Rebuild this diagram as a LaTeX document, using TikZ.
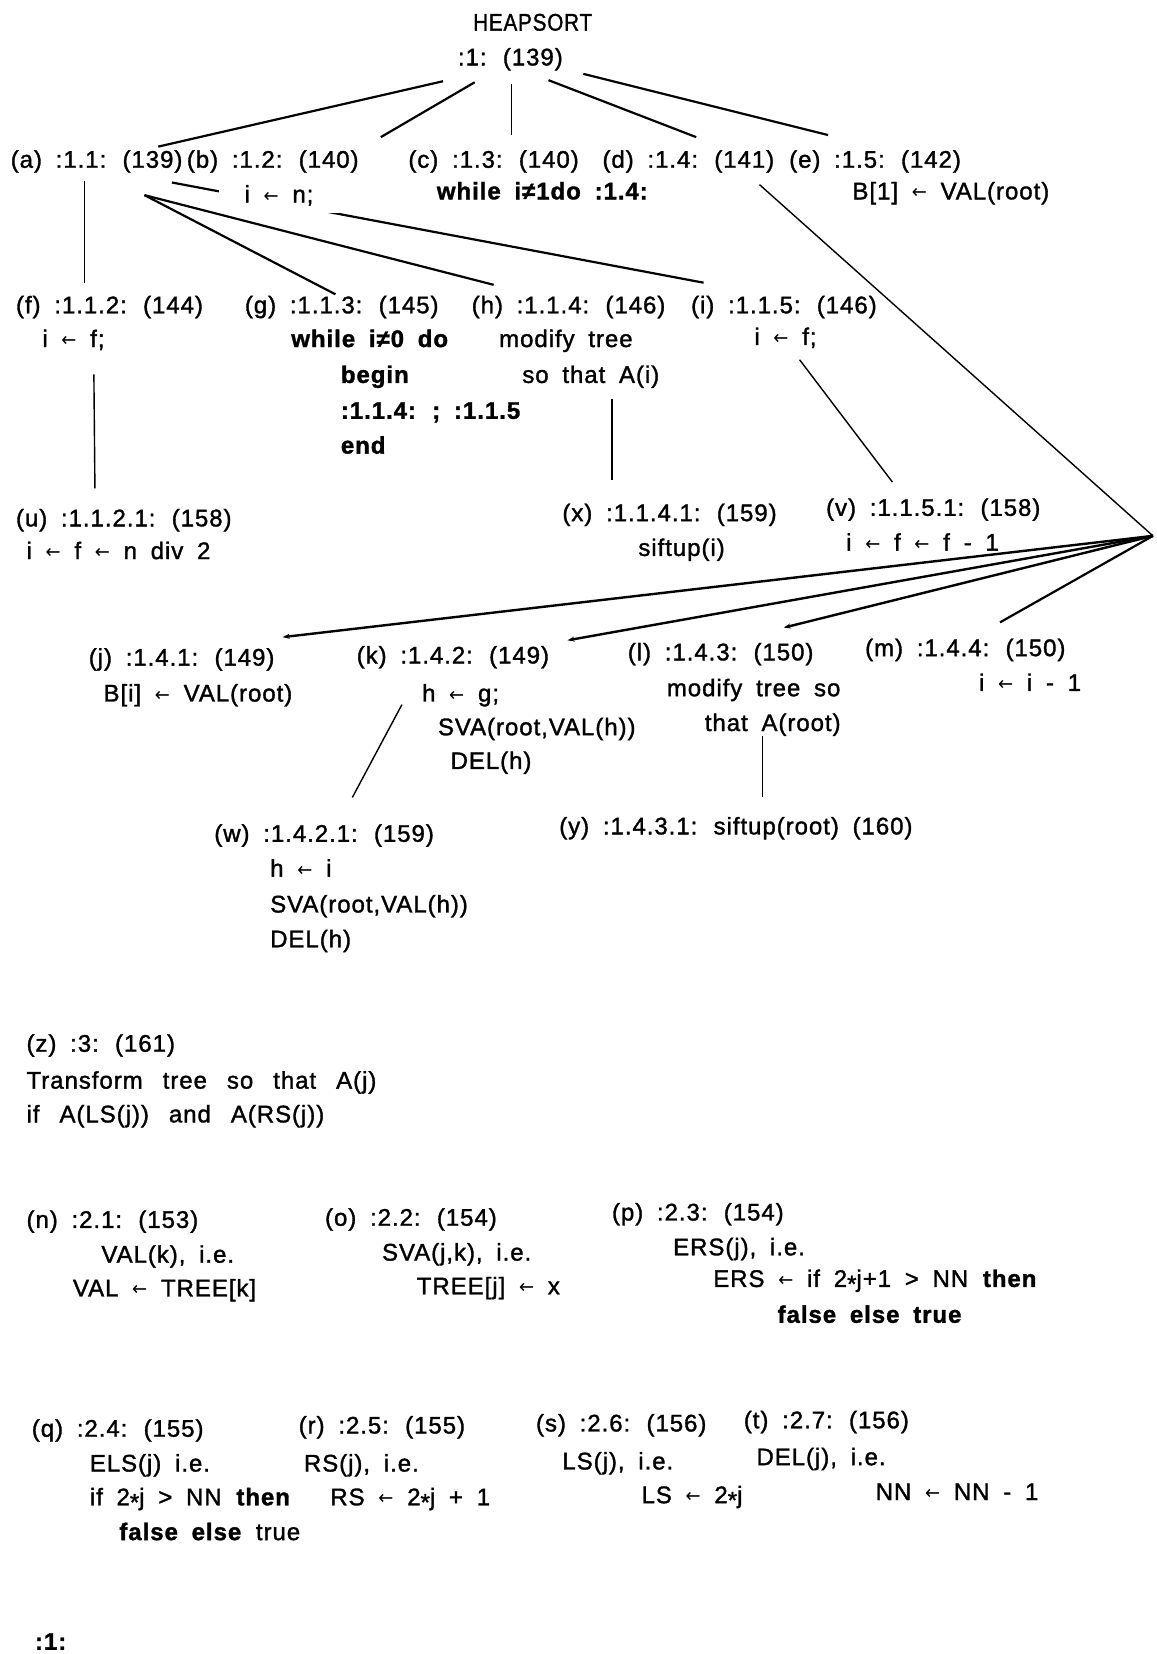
\documentclass[tikz,border=0pt]{standalone}
\usepackage{fontspec}
\usepackage{graphicx}
\setmainfont{Liberation Sans}[LetterSpace=4,WordSpace=1.8,FakeBold=1.4]
\newfontfamily\symfont{DejaVu Sans}
\usetikzlibrary{arrows.meta}
% left arrow used for assignment, a centred star for products,
% and wider word gaps for the description of :3:
\newcommand\lar{\raisebox{0.02em}{\scalebox{0.75}[0.8]{\symfont ←}}}
\newcommand\st{\raisebox{-0.22em}{*}}
\newcommand\widegaps{\spaceskip=20pt\relax}

\begin{document}
\begin{tikzpicture}[x=1.0547pt,y=-1.0547pt,
  tx/.style={anchor=base west,inner sep=0pt,font=\fontsize{24}{24}\selectfont},
  lk/.style={line width=1.4pt},
  lkh/.style={line width=2.2pt},
  fan/.style={line width=2.4pt},
  tipped/.style={-{Stealth[length=7pt,width=5pt]}}]
\useasboundingbox[fill=white] (0,0) rectangle (1096,1568);

% root
\node[tx,anchor=base] (hs) at (505,29) {\scalebox{0.86}[1]{HEAPSORT}};
\node[tx] (hs1) at (434,62) {:1: (139)};

% first level
\node[tx] (a) at (10,159) {(a) :1.1: (139)};
\node[tx] (b) at (177,159) {(b) :1.2: (140)};
\node[tx] (c) at (387,159) {(c) :1.3: (140)};
\node[tx] (d) at (571,159) {(d) :1.4: (141)};
\node[tx] (e) at (748,159) {(e) :1.5: (142)};
\node[tx] (c1) at (414,189) {\textbf{while i≠1do :1.4:}};
\node[tx] (e1) at (808,189) {B[1] \lar{} VAL(root)};

% children of (a)
\node[tx] (f) at (15,297) {(f) :1.1.2: (144)};
\node[tx] (g) at (232,297) {(g) :1.1.3: (145)};
\node[tx] (h) at (447,297) {(h) :1.1.4: (146)};
\node[tx] (i) at (655,297) {(i) :1.1.5: (146)};
\node[tx] (f1) at (40,329) {i \lar{} f;};
\node[tx] (g1) at (276,329) {\textbf{while i≠0 do}};
\node[tx] (g2) at (323,363) {\textbf{begin}};
\node[tx] (g3) at (323,397) {\textbf{:1.1.4: ; :1.1.5}};
\node[tx] (g4) at (323,430) {\textbf{end}};
\node[tx] (h1) at (473,329) {modify tree};
\node[tx] (h2) at (495,363) {so that A(i)};
\node[tx] (i1) at (715,327) {i \lar{} f;};

% third level
\node[tx] (u) at (15,499) {(u) :1.1.2.1: (158)};
\node[tx] (u1) at (25,530) {i \lar{} f \lar{} n div 2};
\node[tx] (x) at (533,494) {(x) :1.1.4.1: (159)};
\node[tx] (x1) at (605,527) {siftup(i)};
\node[tx] (v) at (783,489) {(v) :1.1.5.1: (158)};
\node[tx] (v1) at (802,522) {i \lar{} f \lar{} f - 1};

% children of (d)
\node[tx] (j) at (84,631) {(j) :1.4.1: (149)};
\node[tx] (j1) at (98,665) {B[i] \lar{} VAL(root)};
\node[tx] (k) at (338,629) {(k) :1.4.2: (149)};
\node[tx] (k1) at (400,665) {h \lar{} g;};
\node[tx] (k2) at (415,697) {SVA(root,VAL(h))};
\node[tx] (k3) at (427,729) {DEL(h)};
\node[tx] (l) at (595,626) {(l) :1.4.3: (150)};
\node[tx] (l1) at (632,660) {modify tree so};
\node[tx] (l2) at (668,693) {that A(root)};
\node[tx] (m) at (820,622) {(m) :1.4.4: (150)};
\node[tx] (m1) at (928,655) {i \lar{} i - 1};

\node[tx] (w) at (203,798) {(w) :1.4.2.1: (159)};
\node[tx] (w1) at (256,831) {h \lar{} i};
\node[tx] (w2) at (256,865) {SVA(root,VAL(h))};
\node[tx] (w3) at (256,898) {DEL(h)};
\node[tx] (y) at (530,791) {(y) :1.4.3.1: siftup(root) (160)};

% procedure :3:
\node[tx] (z) at (25,997) {(z) :3: (161)};
\node[tx] (z1) at (25,1032) {\widegaps Transform tree so that A(j)};
\node[tx] (z2) at (25,1064) {\widegaps if A(LS(j)) and A(RS(j))};

% procedures :2.x:
\node[tx] (n) at (25,1164) {(n) :2.1: (153)};
\node[tx] (n1) at (96,1197) {VAL(k), i.e.};
\node[tx] (n2) at (69,1229) {VAL \lar{} TREE[k]};
\node[tx] (o) at (308,1162) {(o) :2.2: (154)};
\node[tx] (o1) at (362,1195) {SVA(j,k), i.e.};
\node[tx] (o2) at (395,1227) {TREE[j] \lar{} x};
\node[tx] (p) at (580,1157) {(p) :2.3: (154)};
\node[tx] (p1) at (638,1190) {ERS(j), i.e.};
\node[tx] (p2) at (676,1220) {ERS \lar{} if 2\st{}j+1 > NN \textbf{then}};
\node[tx] (p3) at (737,1254) {\textbf{false else true}};

\node[tx] (q) at (30,1362) {(q) :2.4: (155)};
\node[tx] (q1) at (85,1395) {ELS(j) i.e.};
\node[tx] (q2) at (85,1427) {if 2\st{}j > NN \textbf{then}};
\node[tx] (q3) at (113,1460) {\textbf{false else} true};
\node[tx] (r) at (283,1359) {(r) :2.5: (155)};
\node[tx] (r1) at (288,1395) {RS(j), i.e.};
\node[tx] (r2) at (313,1427) {RS \lar{} 2\st{}j + 1};
\node[tx] (s) at (508,1357) {(s) :2.6: (156)};
\node[tx] (s1) at (533,1393) {LS(j), i.e.};
\node[tx] (s2) at (608,1425) {LS \lar{} 2\st{}j};
\node[tx] (t) at (705,1354) {(t) :2.7: (156)};
\node[tx] (t1) at (717,1389) {DEL(j), i.e.};
\node[tx] (t2) at (830,1422) {NN \lar{} NN - 1};

\node[tx] (last) at (33,1564) {\textbf{:1:}};

% junction of the branches of (d)
\coordinate (V) at (1093,508);

% root to first level
\draw[lkh] ([shift={(-14,15)}]hs1.base west) -- ([shift={(140,-20)}]a.base west);
\draw[lkh] ([shift={(16,16)}]hs1.base west) -- ([shift={(184,-29)}]b.base west);
\draw[lk]  ([shift={(51,18)}]hs1.base west) -- ([shift={(98,-31)}]c.base west);
\draw[lkh] ([shift={(86,14)}]hs1.base west) -- ([shift={(89,-29)}]d.base west);
\draw[lkh] ([shift={(119,8)}]hs1.base west) -- ([shift={(37,-31)}]e.base west);

% (a) to its children
\draw[lk]  ([shift={(70,13)}]a.base west) -- ([shift={(65,-29)}]f.base west);
\draw[lkh] ([shift={(127,26)}]a.base west) -- ([shift={(86,-18)}]g.base west);
\draw[lkh] ([shift={(127,26)}]a.base west) -- ([shift={(21,-27)}]h.base west);
\draw[lkh] ([shift={(153,14)}]a.base west) -- ([shift={(12,-29)}]i.base west);

% (d) to its children through the junction
\draw[lk] ([shift={(149,16)}]d.base west) -- (V);
\draw[fan,tipped] (V) -- ([shift={(184,-27)}]j.base west);
\draw[fan,tipped] (V) -- ([shift={(200,-22)}]k.base west);
\draw[fan,tipped] (V) -- ([shift={(148,-31)}]l.base west);
\draw[lkh] (V) -- ([shift={(128,-32)}]m.base west);

% lower links
\draw[lk] ([shift={(43,14)}]i1.base west) -- ([shift={(63,-32)}]v.base west);
\draw[lk] ([shift={(49,26)}]f1.base west) -- ([shift={(75,-36)}]u.base west);
\draw[lk] ([shift={(85,15)}]h2.base west) -- ([shift={(47,-39)}]x.base west);
\draw[lk] ([shift={(-19,3)}]k1.base west) -- ([shift={(131,-42)}]w.base west);
\draw[lk] ([shift={(55,5)}]l2.base west) -- ([shift={(193,-35)}]y.base west);

% statement of (b), drawn over the link to (i)
\node[tx,fill=white,inner xsep=26pt,inner ysep=7pt] (b1) at (207,192) {i \lar{} n;};
\end{tikzpicture}
\end{document}
